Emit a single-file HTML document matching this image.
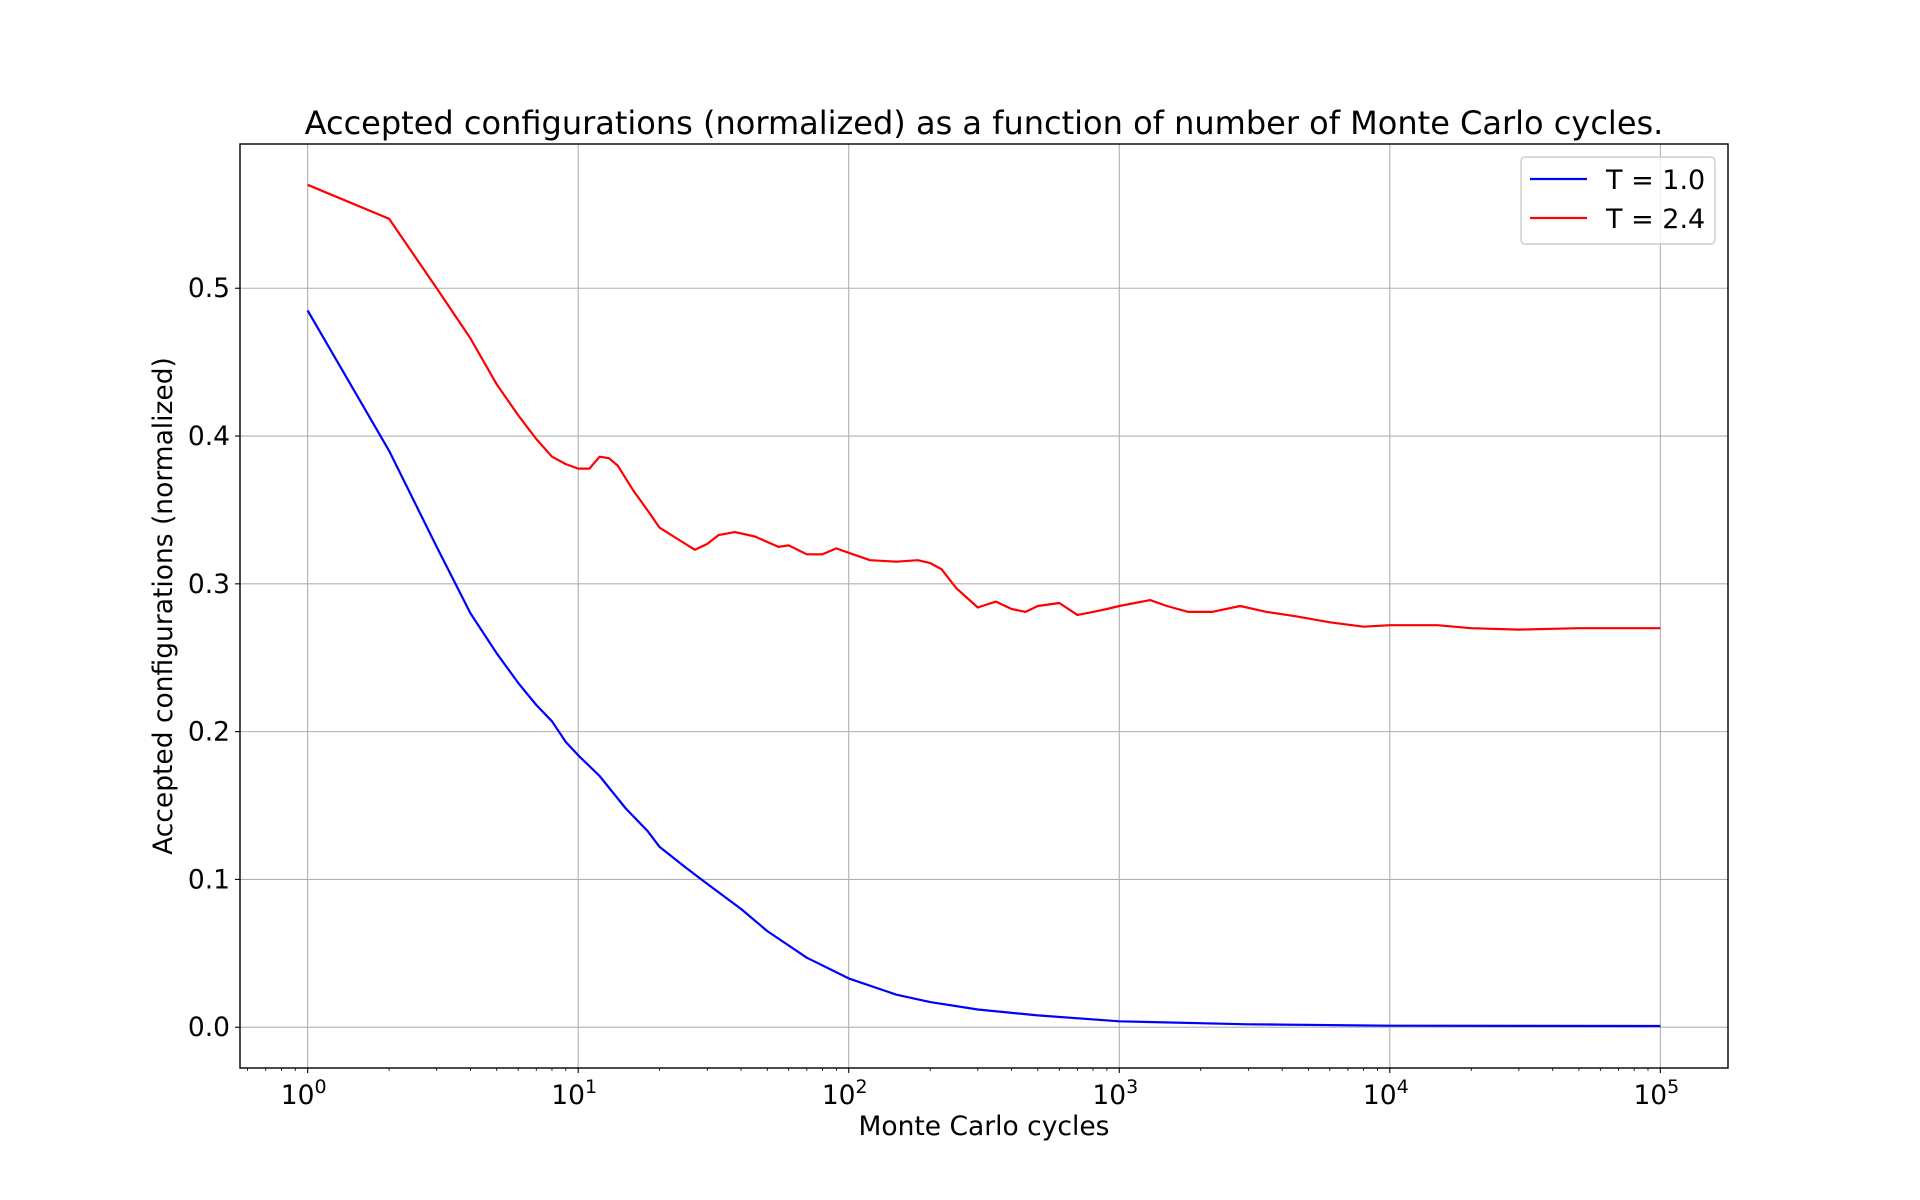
<!DOCTYPE html>
<html><head><meta charset="utf-8"><style>
html,body{margin:0;padding:0;background:#fff;}
svg{display:block;font-family:"DejaVu Sans","Liberation Sans",sans-serif;}
</style></head><body>
<svg id="chart" width="1920" height="1200" viewBox="0 0 1920 1200" xmlns="http://www.w3.org/2000/svg">
<rect width="1920" height="1200" fill="#fff"/>
<g id="grid"></g>
<g id="series"></g>
<rect x="240" y="144" width="1488" height="924" fill="none" stroke="#000" stroke-width="1.4"/>
<g id="ticks"></g>
<text x="984" y="134" font-size="32" text-anchor="middle">Accepted configurations (normalized) as a function of number of Monte Carlo cycles.</text>
<text x="984" y="1135" font-size="26.5" text-anchor="middle">Monte Carlo cycles</text>
<text transform="translate(172,606) rotate(-90)" font-size="26.5" text-anchor="middle">Accepted configurations (normalized)</text>
<g>
<rect x="1521" y="157" width="194" height="87" rx="4" fill="#fff" fill-opacity="0.8" stroke="#ccc" stroke-width="1.4"/>
<line x1="1530" y1="179" x2="1587" y2="179" stroke="#00f" stroke-width="2.2"/>
<text x="1606" y="189" font-size="27">T = 1.0</text>
<line x1="1530" y1="218" x2="1587" y2="218" stroke="#f00" stroke-width="2.2"/>
<text x="1606" y="228" font-size="27">T = 2.4</text>
</g>
</svg>
<script>
const blueX=[1,2,3,4,5,6,7,8,9,10,12,15,18,20,25,30,40,50,70,100,150,200,300,500,1000,3000,10000,100000];
const blueY=[0.485,0.39,0.325,0.28,0.253,0.233,0.218,0.207,0.193,0.184,0.17,0.148,0.133,0.122,0.108,0.097,0.08,0.065,0.047,0.033,0.022,0.017,0.012,0.008,0.004,0.002,0.001,0.0008];
const redX=[1,2,3,4,5,6,7,8,9,10,11,12,13,14,16,18,20,23,27,30,33,38,45,55,60,70,80,90,100,120,150,180,200,220,250,300,350,400,450,500,600,700,800,900,1000,1300,1500,1800,2200,2800,3500,4500,6000,8000,10000,15000,20000,30000,50000,100000];
const redY=[0.57,0.547,0.5,0.466,0.435,0.414,0.398,0.386,0.381,0.378,0.378,0.386,0.385,0.38,0.363,0.35,0.338,0.331,0.323,0.327,0.333,0.335,0.332,0.325,0.326,0.32,0.32,0.324,0.321,0.316,0.315,0.316,0.314,0.31,0.297,0.284,0.288,0.283,0.281,0.285,0.287,0.279,0.281,0.283,0.285,0.289,0.285,0.281,0.281,0.285,0.281,0.278,0.274,0.271,0.272,0.272,0.27,0.269,0.27,0.27];
const xTickExp=[0,1,2,3,4,5];
const yTicks=[0.0,0.1,0.2,0.3,0.4,0.5];
const yTickLabels=["0.0","0.1","0.2","0.3","0.4","0.5"];

const NS="http://www.w3.org/2000/svg";
const L=240,R=1728,T=144,B=1068;
const lx0=-0.25,lx1=5.25;
const y0=-0.0276,y1=0.5976;
function sx(v){return L+(Math.log10(v)-lx0)/(lx1-lx0)*(R-L);}
function sy(v){return B-(v-y0)/(y1-y0)*(B-T);}
function mk(tag,attrs,parent){const e=document.createElementNS(NS,tag);for(const k in attrs)e.setAttribute(k,attrs[k]);parent.appendChild(e);return e;}
const grid=document.getElementById('grid'),ticks=document.getElementById('ticks'),series=document.getElementById('series');

xTickExp.forEach(p=>{
  const x=sx(Math.pow(10,p));
  const g=mk('line',{x1:x,y1:T,x2:x,y2:B,stroke:'#b0b0b0','stroke-width':1.1},grid);
  
  
  const t=mk('line',{x1:x,y1:B,x2:x,y2:B+5,stroke:'#000','stroke-width':1.1},ticks);
  
  
  const tx=mk('text',{x:x-4,y:B+36,'font-size':26.5,'text-anchor':'middle'},ticks);
  
  
  tx.textContent='10';
  const sp=mk('tspan',{dy:-11,'font-size':19},tx);
  sp.textContent=String(p);
});
for(let p=-1;p<=5;p++){for(let m=2;m<=9;m++){const v=m*Math.pow(10,p);const lv=Math.log10(v);if(lv<lx0||lv>lx1)continue;const x=sx(v);
  const t=mk('line',{x1:x,y1:B,x2:x,y2:B+3,stroke:'#000','stroke-width':0.8},ticks);
  
  }}
yTicks.forEach((v,i)=>{
  const y=sy(v);
  const g=mk('line',{x1:L,y1:y,x2:R,y2:y,stroke:'#b0b0b0','stroke-width':1.1},grid);
  
  
  const t=mk('line',{x1:L-5,y1:y,x2:L,y2:y,stroke:'#000','stroke-width':1.1},ticks);
  
  
  const tx=mk('text',{x:L-10,y:y+9,'font-size':26.5,'text-anchor':'end'},ticks);
  
  
  tx.textContent=yTickLabels[i];
});
function line(xs,ys,color,name){
  const d=xs.map((x,i)=>(i?'L':'M')+sx(x).toFixed(1)+','+sy(ys[i]).toFixed(1)).join('');
  const p=mk('path',{d:d,fill:'none',stroke:color,'stroke-width':2.2,'stroke-linejoin':'round'},series);
  
  
}
line(blueX,blueY,'#0000ff','line-t1');
line(redX,redY,'#ff0000','line-t24');
</script>
</body></html>
